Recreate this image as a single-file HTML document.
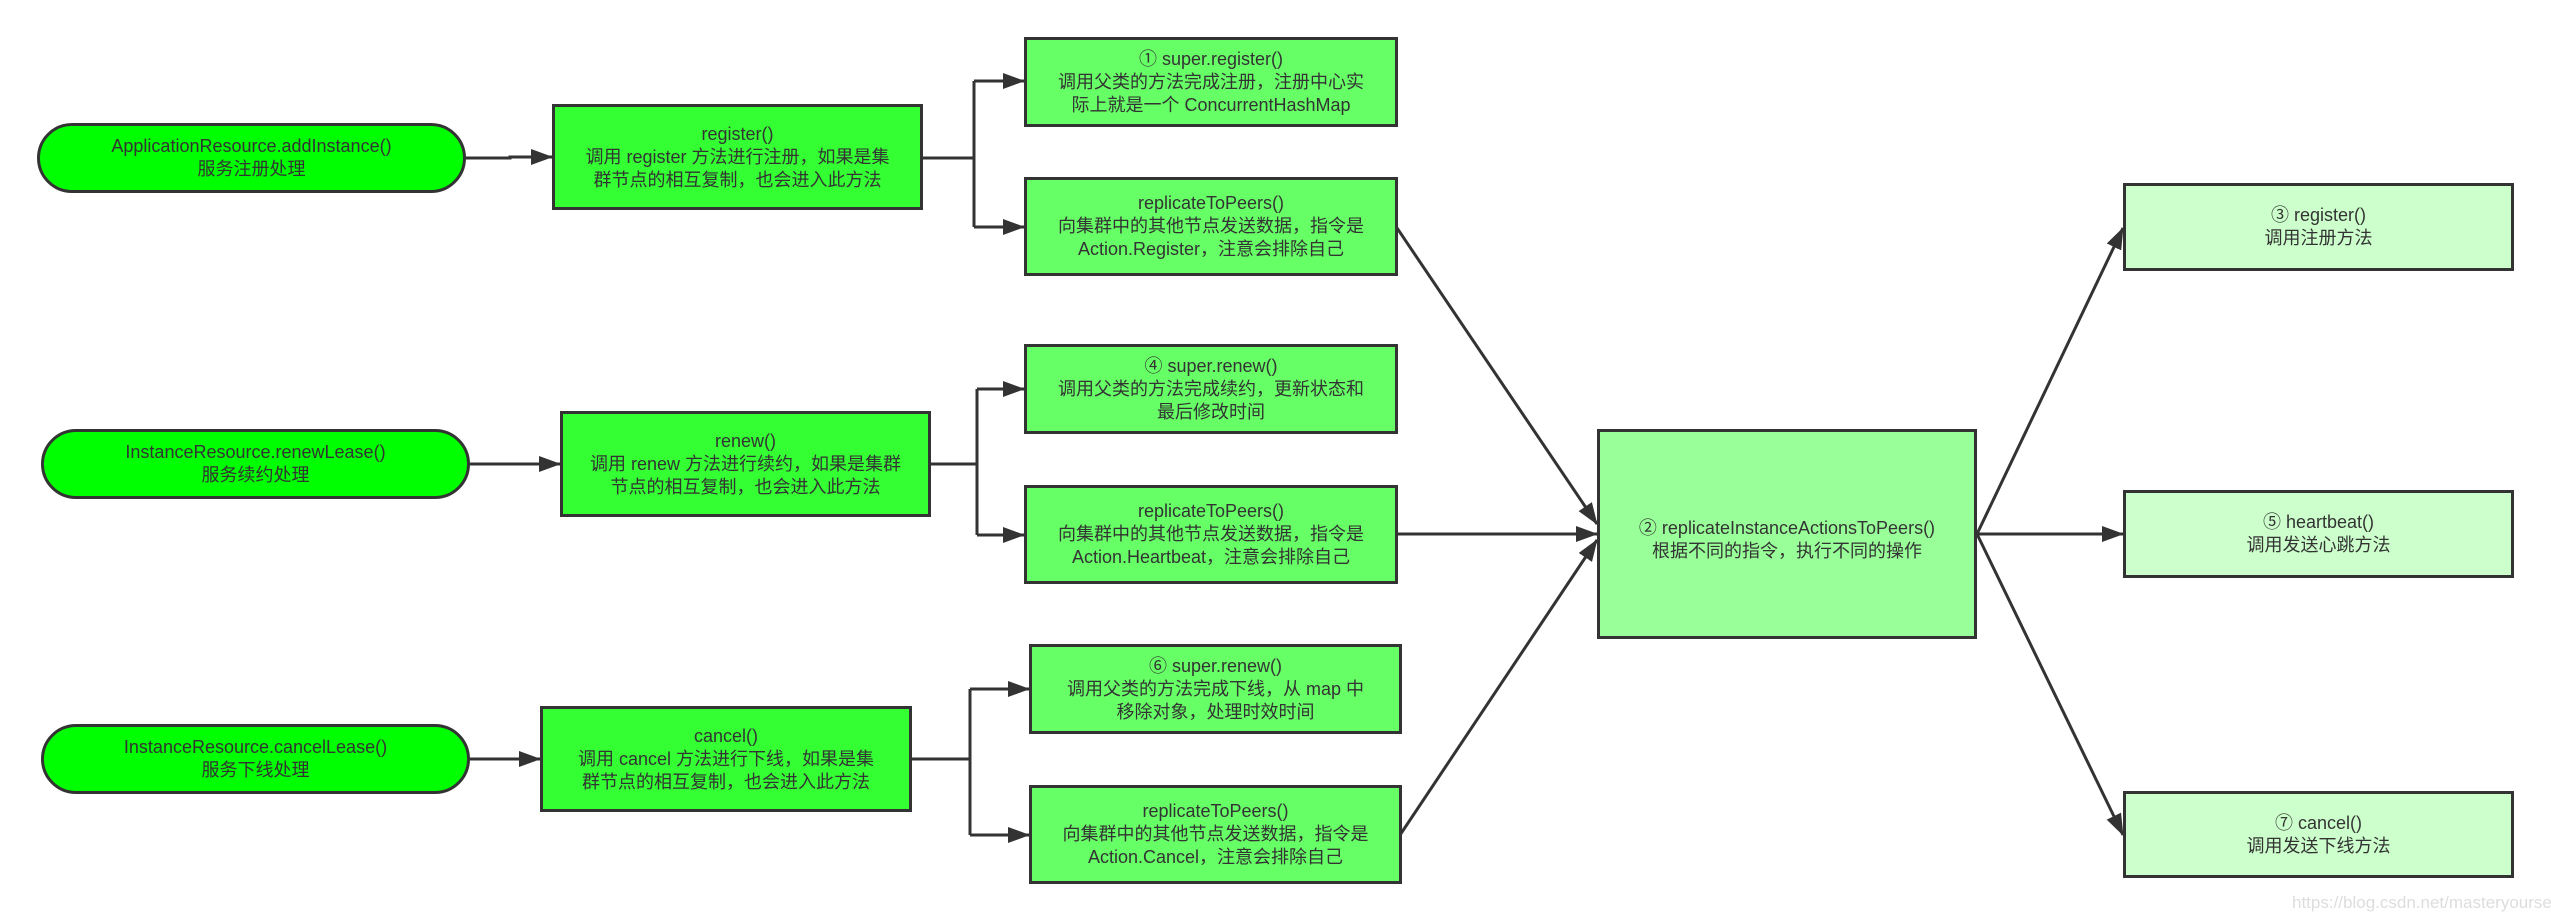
<!DOCTYPE html>
<html><head><meta charset="utf-8"><style>
html,body{margin:0;padding:0;background:#fff;}
body{width:2551px;height:921px;position:relative;overflow:hidden;font-family:"Liberation Sans","Noto Sans CJK SC",sans-serif;}
.b{position:absolute;box-sizing:border-box;border:3px solid #333;display:flex;align-items:center;justify-content:center;text-align:center;font-size:18px;line-height:23px;color:#333;}
.p{background:#00ff00;border-radius:36px;}
.g1{background:#33ff33;}
.g2{background:#66ff66;}
.g3{background:#99ff99;}
.g4{background:#ccffcc;}
svg{position:absolute;left:0;top:0;}
</style></head><body>
<svg width="2551" height="921" viewBox="0 0 2551 921">
<defs><marker id="a" markerWidth="22" markerHeight="16" refX="21" refY="8" orient="auto" markerUnits="userSpaceOnUse"><path d="M0,0 L22,8 L0,16 z" fill="#333"/></marker></defs>
<g stroke="#333" stroke-width="3" fill="none">
<path d="M466,158 H510 V157 H552" marker-end="url(#a)"/>
<path d="M923,158 H974"/>
<path d="M974,81 V227"/>
<path d="M974,81 H1024" marker-end="url(#a)"/>
<path d="M974,227 H1024" marker-end="url(#a)"/>
<path d="M470,464 H560" marker-end="url(#a)"/>
<path d="M931,464 H977"/>
<path d="M977,389 V535"/>
<path d="M977,389 H1024" marker-end="url(#a)"/>
<path d="M977,535 H1024" marker-end="url(#a)"/>
<path d="M470,759 H540" marker-end="url(#a)"/>
<path d="M912,759 H970"/>
<path d="M970,689 V835"/>
<path d="M970,689 H1029" marker-end="url(#a)"/>
<path d="M970,835 H1029" marker-end="url(#a)"/>
<path d="M1397,228 L1597,524" marker-end="url(#a)"/>
<path d="M1397,534 H1597" marker-end="url(#a)"/>
<path d="M1400,835 L1597,540" marker-end="url(#a)"/>
<path d="M1977,534 L2123,228" marker-end="url(#a)"/>
<path d="M1977,534 H2123" marker-end="url(#a)"/>
<path d="M1977,534 L2123,835" marker-end="url(#a)"/>
</g>
</svg>
<div class="b p" style="left:37px;top:123px;width:429px;height:70px;">ApplicationResource.addInstance()<br>服务注册处理</div>
<div class="b p" style="left:41px;top:429px;width:429px;height:70px;">InstanceResource.renewLease()<br>服务续约处理</div>
<div class="b p" style="left:41px;top:724px;width:429px;height:70px;">InstanceResource.cancelLease()<br>服务下线处理</div>
<div class="b g1" style="left:552px;top:104px;width:371px;height:106px;">register()<br>调用 register 方法进行注册，如果是集<br>群节点的相互复制，也会进入此方法</div>
<div class="b g1" style="left:560px;top:411px;width:371px;height:106px;">renew()<br>调用 renew 方法进行续约，如果是集群<br>节点的相互复制，也会进入此方法</div>
<div class="b g1" style="left:540px;top:706px;width:372px;height:106px;">cancel()<br>调用 cancel 方法进行下线，如果是集<br>群节点的相互复制，也会进入此方法</div>
<div class="b g2" style="left:1024px;top:37px;width:374px;height:90px;">① super.register()<br>调用父类的方法完成注册，注册中心实<br>际上就是一个 ConcurrentHashMap</div>
<div class="b g2" style="left:1024px;top:177px;width:374px;height:99px;">replicateToPeers()<br>向集群中的其他节点发送数据，指令是<br>Action.Register，注意会排除自己</div>
<div class="b g2" style="left:1024px;top:344px;width:374px;height:90px;">④ super.renew()<br>调用父类的方法完成续约，更新状态和<br>最后修改时间</div>
<div class="b g2" style="left:1024px;top:485px;width:374px;height:99px;">replicateToPeers()<br>向集群中的其他节点发送数据，指令是<br>Action.Heartbeat，注意会排除自己</div>
<div class="b g2" style="left:1029px;top:644px;width:373px;height:90px;">⑥ super.renew()<br>调用父类的方法完成下线，从 map 中<br>移除对象，处理时效时间</div>
<div class="b g2" style="left:1029px;top:785px;width:373px;height:99px;">replicateToPeers()<br>向集群中的其他节点发送数据，指令是<br>Action.Cancel，注意会排除自己</div>
<div class="b g3" style="left:1597px;top:429px;width:380px;height:210px;align-items:flex-start;padding-top:85px;">② replicateInstanceActionsToPeers()<br>根据不同的指令，执行不同的操作</div>
<div class="b g4" style="left:2123px;top:183px;width:391px;height:88px;">③ register()<br>调用注册方法</div>
<div class="b g4" style="left:2123px;top:490px;width:391px;height:88px;">⑤ heartbeat()<br>调用发送心跳方法</div>
<div class="b g4" style="left:2123px;top:791px;width:391px;height:87px;">⑦ cancel()<br>调用发送下线方法</div>
<div style="position:absolute;left:2292px;top:893px;font-size:17px;color:#ddd;">https://blog.csdn.net/masteryourself</div>
</body></html>
